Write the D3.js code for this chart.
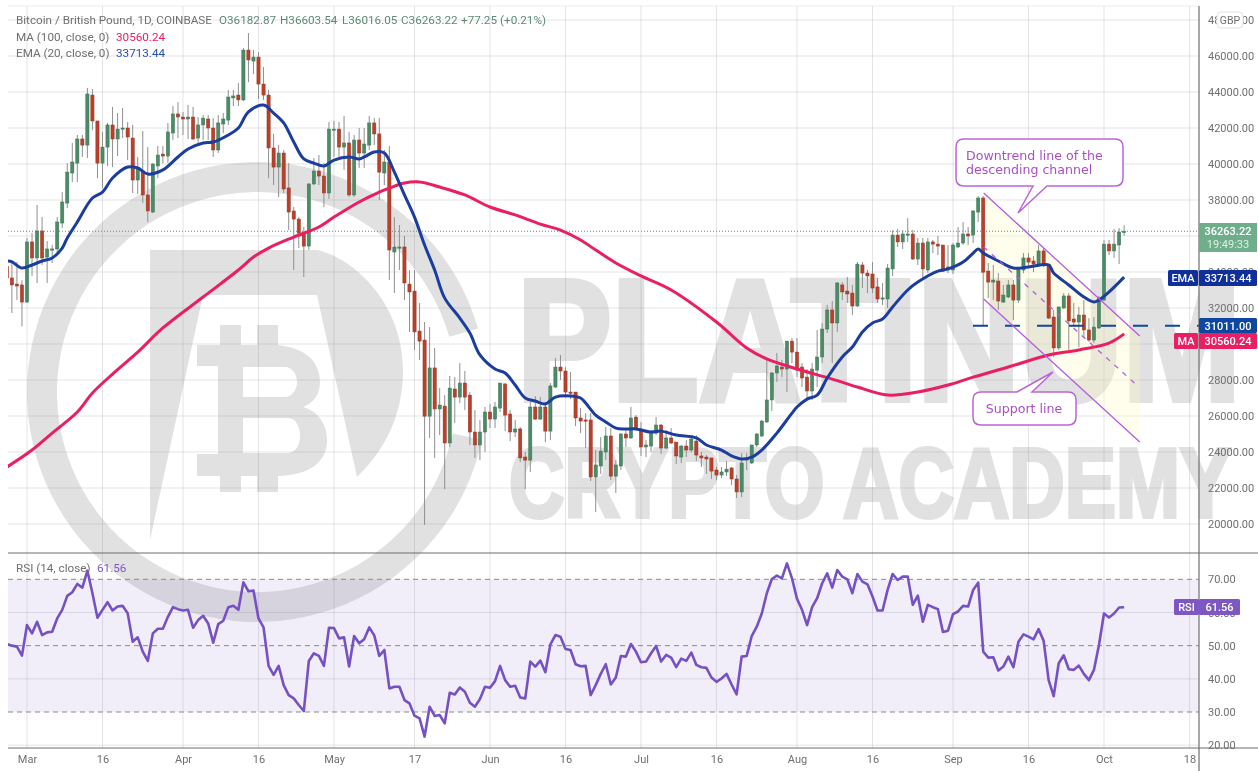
<!DOCTYPE html>
<html><head><meta charset="utf-8">
<style>html,body{margin:0;padding:0;background:#fff}svg{display:block;filter:blur(0.35px)}text{font-family:Roboto,sans-serif}</style>
<script src="https://cdnjs.cloudflare.com/ajax/libs/d3/7.8.5/d3.min.js"></script>
</head><body><svg id="c" width="1258" height="771"></svg>
<script>
// Candles: first value is day -4 (25 Feb), day 0 = 1 Mar, last value is day 218 (5 Oct)
const firstDay = -4;
const opens = [34300,
33670,33330,33280,32330,35670,34780,36280,34830,35220,35280,
36720,37830,39500,40050,41390,41050,43830,42390,40050,40940,
42170,41390,41940,42000,41440,39110,39610,38280,37330,39890,
40550,40440,41720,42780,42610,42500,42610,41440,42170,42500,
42000,40780,42220,42440,43670,43830,43560,46330,45720,45940,
44440,43830,40890,39830,40610,38670,37390,36940,36160,35440,
38890,39610,39330,38390,41890,41940,40940,41170,38280,41330,
40610,41050,42280,41670,39500,40110,35110,35330,35390,33330,
32940,30720,30220,25990,28670,26390,26550,24500,27500,27050,
27830,27160,25110,24390,25110,26220,25830,26440,27780,26110,
25110,25280,23720,23550,26500,25830,26500,25160,27610,28720,
28500,27330,27330,25890,25780,25780,22610,23220,24000,24890,
22660,23220,25000,24780,25940,25280,24280,24330,25050,25500,
24220,24780,24550,23720,24330,24110,24610,23780,23720,23670,
23000,22720,22890,23110,22500,21780,23550,23390,24390,24890,
25670,26890,28390,28720,28610,30160,29550,28720,28160,27390,
28550,29280,30830,31890,31170,33280,32940,32830,32110,34390,
33940,33890,33170,32500,32500,34170,36050,35670,36050,36110,
34720,35610,34110,35670,35550,35500,34110,34110,35390,35610,
36110,36050,37330,38110,34050,33440,33500,32330,32610,33280,
32440,34110,34780,34610,34390,35170,34440,31500,29780,32000,
32670,31390,31220,31610,30780,30220,30890,32440,35550,35170,
35500,36182.87];
const highs = [34900,
34670,34560,33550,35890,36160,37720,37050,35720,35500,37050,
38440,40050,41170,41610,41610,44220,44170,42390,41780,42280,
43170,42830,43110,42330,42170,40390,41830,40940,40050,41000,
41000,42280,43220,43440,42890,43280,43170,42610,42720,42720,
42550,42720,42830,44110,44110,44500,46440,47280,46330,46220,
45390,44110,41670,41050,40780,40050,37610,37050,36500,38940,
40330,40500,40050,42330,42390,42330,42670,41780,41610,42000,
42000,42670,42550,42550,40780,41000,37050,36610,36000,34110,
34110,32280,31220,30940,29780,27550,27160,28220,28160,28940,
28500,27330,26330,25780,26500,26670,26780,27830,27830,26330,
25780,25390,24000,26780,27110,27050,26780,27830,29220,29390,
28720,28440,27330,26440,26160,26160,24110,24830,25390,25330,
23550,25050,25330,26500,26050,25660,24660,25220,25940,25550,
25220,25330,24550,24390,24660,24890,24940,24000,23830,23670,
23170,23170,23500,23170,22720,23940,23940,24390,25050,25780,
29220,28440,29500,29110,30160,30330,30330,28940,28610,28940,
30780,31170,32170,32390,33440,33440,33720,33280,34550,34550,
34110,34550,33670,33390,34440,36330,36390,36330,36990,36330,
35890,35890,35890,35780,36000,35500,35500,35610,36500,36780,
36500,37440,38220,38220,34500,34390,33940,33280,33550,33550,
34280,35050,35050,34890,35500,35330,34440,31890,32060,32830,
32830,32280,32060,32440,31440,31500,32670,35780,35780,36390,
36440,36603.54];
const lows = [33000,
31720,32440,30980,32280,33780,33390,34390,33390,34500,35050,
36440,37550,38990,38990,40390,40330,41890,39220,38670,39890,
39830,40440,41440,40220,38390,38330,37830,36780,37280,39220,
40050,40050,41330,41440,41610,41390,41330,41170,41330,41330,
40390,40610,41720,42170,43220,43220,43500,44550,45000,43610,
43560,39220,38830,38160,38390,36330,34110,35330,33720,35220,
38830,38830,37610,38060,40390,40220,39670,38160,38160,39780,
39780,40780,41050,38000,38830,33550,32830,34110,32440,30670,
29670,29110,19950,24780,23670,24940,21940,24280,25610,26720,
26330,24390,23670,23550,24000,25330,25330,26220,25160,24610,
24830,23440,21940,22890,25780,25780,24550,24660,27550,28000,
27000,26940,25440,25050,24220,22390,20660,22780,23550,22440,
21720,23000,24280,24720,25220,23780,23720,24000,24940,23890,
24160,24440,23330,23390,23720,24000,23500,23170,22780,22500,
22440,22550,22660,22160,21440,21500,23000,23330,24280,24830,
25610,26280,27890,28160,27330,28940,28160,27610,27000,26890,
27610,28940,30610,28940,30670,32440,32280,31610,32060,33110,
32830,32830,32280,32170,32000,33780,35390,35280,35670,34670,
34390,33670,33940,35050,34940,34000,33940,33890,35330,35500,
35500,35610,36780,31050,32550,32440,31890,32280,32550,31330,
32280,33940,34280,33990,34280,34280,31390,29280,29670,31940,
29670,30940,29830,30330,30110,30050,30830,32390,34940,34780,
34440,36016.05];
const closes = [33670,
33280,33220,32330,35670,34780,36280,34780,35280,35280,36780,
37890,39550,40110,41390,41050,43890,42390,40050,40940,42170,
41390,41940,42000,41500,39110,39720,38280,37390,40000,40500,
40440,41780,42780,42610,42500,42610,41390,42170,42550,42000,
40780,42280,42500,43720,43780,43560,46330,45780,45940,44440,
43830,40890,39830,40610,38610,37330,36940,36160,35440,38890,
39610,39330,38390,41940,41940,40940,41170,38280,41330,40610,
41110,42280,41670,39550,40110,35220,35390,35390,33390,32890,
30670,30160,25990,28670,26390,26610,24500,27550,27050,27830,
27050,25110,24390,25110,26220,25830,26500,27830,26050,25110,
25280,23670,23550,26500,25830,26500,25160,27670,28720,28500,
27330,27280,25890,25720,25720,22610,23280,24050,24890,22660,
23280,25000,24780,25890,25280,24280,24390,25110,25500,24220,
24780,24500,23780,24330,24110,24720,23830,23670,23610,22940,
22720,22890,23050,22500,21780,23390,23670,24390,25000,25720,
26890,28390,28780,28610,30160,29550,28550,28110,27390,28610,
29280,30830,31890,31170,33390,32890,32780,32110,34440,33940,
33780,33110,32500,32560,34220,36050,35670,36110,36110,34720,
35610,34170,35670,35550,35440,34050,34280,35500,35610,36110,
36000,37390,38110,33990,33440,33550,32390,32720,33280,32440,
34170,34780,34550,34440,35170,34390,31440,29780,32060,32670,
31280,31220,31610,30780,30220,30940,32560,35550,35170,35550,
36220,36263.22];
// RSI for the same days
const rsiValues = [50.5,
50,49.7,47,56.2,53.7,57.2,53.2,54,54.2,58.2,
60.8,65,66.1,68.6,67.5,72.6,65.8,58.4,60.8,63.1,
60.6,61.8,62,59.8,51.2,52.5,48.2,45.4,53.7,55.1,
55.1,58.7,61.6,61,60.6,60.8,55.4,57.7,59,56.7,
50.9,56.5,57.5,61.6,62,60.8,69.1,66.4,66.6,58.2,
55.5,43.9,41.2,43.9,38.1,35.1,34.1,32.1,30.3,45.4,
47.7,46.9,43.9,55.4,55.3,52.2,52.5,43.7,52.9,50.7,
51.9,55.5,53.1,46.9,48.7,37.1,37.6,37.6,33.6,32.6,
28.9,28.1,22.6,31.6,28.8,29.1,26.6,35.8,35.3,37.4,
36.1,32.8,31.6,33.9,37.6,37.3,39.3,43.9,39.6,37.6,
37.9,34.4,34.1,45.2,43.7,45.5,42,50.4,53.2,52.7,
49,48.7,44.4,43.8,43.9,35.1,38.1,41.5,44.4,38.3,
40.4,46.9,46.7,50.5,48.2,45,45.2,47.7,49.9,45.2,
47.2,46.4,43.5,46.1,45.4,47.9,44.2,43.5,43.3,40.4,
39.1,40.1,41.5,38.3,35.3,46.7,46.9,52.9,55.7,59.7,
65.8,70.1,71.1,70.3,74.8,70.3,64.1,60.8,56.2,61.6,
64.3,68.8,71.8,67.5,72.8,70.8,70,65.8,71.6,69.3,
68.5,64.8,60.6,60.6,66.8,71.6,69.8,70.8,70.8,62.3,
65.1,57.2,62.3,61.6,61,54.1,54.5,59.5,60.3,62,
61.8,66.8,69,48.2,46.4,46.5,42.5,43.7,46.7,43.5,
51.2,53.4,52.7,51.9,55,51.5,39.6,34.8,44.7,47.1,
42.9,42.7,44,41.5,39.6,42.7,50.2,59.7,58.5,59.7,
61.5,61.56];
// EMA(20) and MA(100), read at the turning points
const emaDays = [-4,-3,-1,1,3,5,7,8,10,13,15,17,20,22,24,27,30,32,35,37,40,42,44,47,49,51,53,55,57,59,61,64,66,67,69,71,73,75,77,79,81,83,86,88,90,93,95,97,99,101,103,105,108,110,111,113,115,117,119,121,124,126,129,133,135,138,140,142,144,146,149,152,153,155,157,159,162,164,166,168,170,172,175,177,181,183,186,188,189,190,193,196,199,203,204,207,210,212,213,215,218];
const emaValues = [34610,34560,34220,34390,34610,34780,35330,35890,36780,38110,38440,39220,39830,39780,39440,39670,40390,40830,41170,41220,41610,42000,42890,43280,42830,42280,41220,40280,40050,39890,40220,40390,40280,40390,40670,40610,39550,38280,37050,35500,34110,32550,31440,30610,29390,28610,28390,27720,27000,26830,26670,27050,27110,27000,26720,26050,25670,25330,25280,25280,25110,25160,24940,24780,24390,24110,23780,23610,23720,24110,25050,26160,26500,26940,27160,28110,29280,29830,30670,31170,31390,32060,33000,33440,34050,34170,34550,35050,35280,35050,34610,34220,34280,34390,33940,33280,32610,32330,32440,32890,33713.44];
const maDays = [-4,1,5,10,13,17,22,27,35,42,45,48,53,58,61,66,70,72,75,78,82,87,92,97,102,106,110,113,117,122,128,137,143,147,153,160,165,171,177,183,188,195,203,209,215,218];
const maValues = [23160,24110,25050,26220,27280,28330,29550,30890,32610,34110,34830,35330,35940,36500,37050,37890,38440,38660,38940,39000,38720,38280,37610,37170,36660,36330,35780,35220,34500,33780,33000,31220,29780,29170,28610,28050,27610,27160,27330,27720,28160,28720,29390,29670,30050,30560.24];
// Axes
const priceTicks = [20000,22000,24000,26000,28000,30000,32000,34000,36000,38000,40000,42000,44000,46000,48000];
const rsiTicks = [20,30,40,50,60,70];
const timeTickDays = [0,15,31,46,61,77,92,107,122,137,153,168,184,199,214,231];
const timeTickLabels = ["Mar","16","Apr","16","May","17","Jun","16","Jul","16","Aug","16","Sep","16","Oct","18"];
// Drawn levels and channel, as [day, price]
const supportLevel = 31011;
const channelUpper = [[190.1,38390],[221.1,30440]];
const channelLower = [[190.1,32500],[221.1,24550]];
const channelMid = [[190.1,35390],[220.5,27720]];

const svg = d3.select("#c");
const L=8,R=1199,T=6,PB=553,RB=748;
const x = d3.scaleLinear().domain([0,214]).range([27,1104]);
const y = d3.scaleLinear().domain([46000,20000]).range([56,524]);
const ry = d3.scaleLinear().domain([70,30]).range([579.3,712]);
const days = opens.map((_,i)=>i+firstDay);
const defs = svg.append("defs");
defs.append("clipPath").attr("id","pc").append("rect").attr("x",L).attr("y",T).attr("width",R-L).attr("height",PB-T);
defs.append("clipPath").attr("id","rc").append("rect").attr("x",L).attr("y",PB).attr("width",R-L).attr("height",RB-PB);

const WM="#e1e1e1";
// Watermark
const wm = svg.append("g").attr("fill",WM);
wm.append("path").attr("transform","translate(257,392)")
  .attr("d",d3.arc().innerRadius(200).outerRadius(230).startAngle(102*Math.PI/180).endAngle(434*Math.PI/180)());
wm.append("path").attr("d","M150,250H318C362,262 403,310 403,370C403,415 385,450 357,477L317,295H203L150,540Z");
wm.append("path").attr("fill-rule","evenodd").attr("d","M197,345H220V325H241V345H257V325H278V345C306,348 320,362 320,382C320,394 314,403 303,407C318,411 327,424 327,440C327,462 310,475 278,476V492H257V476H241V492H220V476H197V454H218V366H197ZM243,367V397H285C292,397 297,390 297,382C297,374 292,367 285,367ZM243,418V453H288C296,453 300,444 300,436C300,427 296,418 288,418Z");
wm.append("text").attr("x",517).attr("y",400).attr("textLength",724).attr("lengthAdjust","spacingAndGlyphs")
  .attr("stroke",WM).attr("stroke-width",6).attr("stroke-linejoin","miter")
  .style("font-family","'Liberation Sans',sans-serif").style("font-weight",700).style("font-size","172px").text("PLATINUM");
wm.append("text").attr("x",509).attr("y",517).attr("textLength",722).attr("lengthAdjust","spacingAndGlyphs")
  .attr("stroke",WM).attr("stroke-width",4).attr("stroke-linejoin","miter")
  .style("font-family","'Liberation Sans',sans-serif").style("font-weight",700).style("font-size","98px").text("CRYPTO ACADEMY");

// RSI band
svg.append("rect").attr("x",L).attr("y",ry(70)).attr("width",R-L).attr("height",ry(30)-ry(70)).attr("fill","#7e57c2").attr("fill-opacity",0.1);

// Grid
const gridC="rgba(120,120,140,0.2)";
const grid = svg.append("g").attr("fill","none");
grid.append("line").attr("x1",L).attr("x2",R).attr("y1",T).attr("y2",T).attr("stroke","#ececf0");
grid.selectAll(".h").data(priceTicks).join("line")
  .attr("x1",L).attr("x2",R).attr("y1",d=>y(d)).attr("y2",d=>y(d)).attr("stroke",gridC);
grid.selectAll(".v").data(timeTickDays).join("line")
  .attr("x1",d=>x(d)).attr("x2",d=>x(d)).attr("y1",T).attr("y2",RB).attr("stroke",gridC);
grid.selectAll(".r").data(rsiTicks).join("line")
  .attr("x1",L).attr("x2",R).attr("y1",d=>ry(d)).attr("y2",d=>ry(d))
  .attr("stroke",d=>(d===70||d===50||d===30)?"#8a8a8a":gridC)
  .attr("stroke-dasharray",d=>(d===70||d===50||d===30)?"5 4":null);

// Channel fill
const chPts=[...channelUpper,...channelLower.slice().reverse()].map(p=>[x(p[0]),y(p[1])]);
svg.append("path").attr("d",d3.line()(chPts)+"Z").attr("fill","#fff9c4").attr("fill-opacity",0.32);

// Last price line
svg.append("line").attr("x1",L).attr("x2",R).attr("y1",y(36263.22)).attr("y2",y(36263.22))
  .attr("stroke","#4f9a72").attr("stroke-dasharray","1 2");

// Candles
const cg = svg.append("g").attr("clip-path","url(#pc)");
const green="#4b8b67",red="#b8412c";
const idx = d3.range(opens.length);
cg.selectAll(".w").data(idx).join("line")
  .attr("x1",i=>x(days[i])).attr("x2",i=>x(days[i])).attr("y1",i=>y(highs[i])).attr("y2",i=>y(lows[i]))
  .attr("stroke","#8f8f8f").attr("stroke-width",1);
cg.selectAll(".b").data(idx).join("rect")
  .attr("x",i=>x(days[i])-1.6).attr("width",3.2)
  .attr("y",i=>y(Math.max(opens[i],closes[i])))
  .attr("height",i=>Math.max(1.2,Math.abs(y(opens[i])-y(closes[i]))))
  .attr("fill",i=>closes[i]>=opens[i]?green:red)
  .attr("stroke",i=>closes[i]>=opens[i]?"#3a7554":"#9c3020").attr("stroke-width",0.5);

// MA / EMA
const smooth = d3.line().curve(d3.curveCatmullRom.alpha(0.5));
cg.append("path").attr("d",smooth(maDays.map((d,i)=>[x(d),y(maValues[i])])))
  .attr("fill","none").attr("stroke","#e91e63").attr("stroke-width",3);
cg.append("path").attr("d",smooth(emaDays.map((d,i)=>[x(d),y(emaValues[i])])))
  .attr("fill","none").attr("stroke","#1a3d9e").attr("stroke-width",3);

// Level
svg.append("line").attr("x1",973).attr("x2",R).attr("y1",y(supportLevel)).attr("y2",y(supportLevel))
  .attr("stroke","#0d47a1").attr("stroke-width",2).attr("stroke-dasharray","15 17");

// Channel lines
const PUR="#b45be0";
const ln=d3.line().x(p=>x(p[0])).y(p=>y(p[1]));
svg.append("path").attr("d",ln(channelUpper)).attr("stroke",PUR).attr("stroke-width",1.3).attr("fill","none");
svg.append("path").attr("d",ln(channelLower)).attr("stroke",PUR).attr("stroke-width",1.3).attr("fill","none");
svg.append("path").attr("d",ln(channelMid)).attr("stroke",PUR).attr("stroke-width",1.3).attr("fill","none").attr("stroke-dasharray","5 6");

// Callouts
const CT="#a94fc8",CB="#b965d6";
function callout(x0,y0,w,h,ptr,lines,tx,anchor){
  const r=8;
  const top = ptr.side==="top", [a,tipx,tipy,b]=[ptr.a,ptr.x,ptr.y,ptr.b];
  let d=`M${x0+r},${y0}`;
  if(top) d+=`H${a}L${tipx},${tipy}L${b},${y0}`;
  d+=`H${x0+w-r}Q${x0+w},${y0} ${x0+w},${y0+r}V${y0+h-r}Q${x0+w},${y0+h} ${x0+w-r},${y0+h}`;
  if(!top) d+=`H${b}L${tipx},${tipy}L${a},${y0+h}`;
  d+=`H${x0+r}Q${x0},${y0+h} ${x0},${y0+h-r}V${y0+r}Q${x0},${y0} ${x0+r},${y0}Z`;
  svg.append("path").attr("d",d).attr("fill","#fff").attr("stroke",CB).attr("stroke-width",1.5);
  lines.forEach((t,i)=>svg.append("text").attr("x",tx).attr("y",y0+(lines.length==1?21:21)+i*14).attr("text-anchor",anchor)
    .attr("fill",CT).style("font-family","'DejaVu Sans',sans-serif").style("font-size","12.6px").text(t));
}
callout(956,139,167,47,{side:"bottom",a:1033,b:1047,x:1018,y:213},["Downtrend line of the","descending channel"],966,"start");
callout(973,392,103,33,{side:"top",a:1017,b:1032,x:1053,y:372},["Support line"],1024,"middle");

// RSI line
svg.append("g").attr("clip-path","url(#rc)").append("path")
  .attr("d",d3.line()(days.map((d,i)=>[x(d),ry(rsiValues[i])]))).attr("fill","none")
  .attr("stroke","#7651c4").attr("stroke-width",2.6).attr("stroke-linejoin","round");

// Frame
svg.append("line").attr("x1",L).attr("x2",1258).attr("y1",PB).attr("y2",PB).attr("stroke","#6e6e6e").attr("stroke-width",1.2);
svg.append("line").attr("x1",L).attr("x2",1258).attr("y1",RB).attr("y2",RB).attr("stroke","#6e6e6e").attr("stroke-width",1.2);
svg.append("line").attr("x1",R).attr("x2",R).attr("y1",T).attr("y2",771).attr("stroke","#6e6e6e").attr("stroke-width",1.2);

// Axes
const AX="#6f6f6f", AF="11px";
const px = d3.axisRight(y).tickValues(priceTicks).tickFormat(d3.format(".2f")).tickSize(0).tickPadding(9);
const gp = svg.append("g").attr("transform",`translate(${R},0)`).call(px);
gp.select(".domain").remove(); gp.selectAll("text").attr("fill",AX).style("font-size",AF);
const prx = d3.axisRight(ry).tickValues(rsiTicks).tickFormat(d3.format(".2f")).tickSize(0).tickPadding(9);
const gr = svg.append("g").attr("transform",`translate(${R},0)`).call(prx);
gr.select(".domain").remove(); gr.selectAll("text").attr("fill",AX).style("font-size",AF);
const ax = d3.axisBottom(x).tickValues(timeTickDays).tickFormat((d,i)=>timeTickLabels[i]).tickSize(0).tickPadding(7);
const gx = svg.append("g").attr("transform",`translate(0,${RB})`).call(ax);
gx.select(".domain").remove(); gx.selectAll("text").attr("fill",AX).style("font-size",AF);

// Currency button
svg.append("rect").attr("x",1217).attr("y",12).attr("width",26).attr("height",16).attr("rx",4).attr("fill","#fff").attr("stroke","#dfe1ea");
svg.append("text").attr("x",1230).attr("y",24).attr("text-anchor","middle").attr("fill",AX).style("font-size","10.5px").text("GBP");

// Price tags
function tag(x0,y0,w,h,fill,txt,col,fs,bold){
  svg.append("rect").attr("x",x0).attr("y",y0).attr("width",w).attr("height",h).attr("rx",1.5).attr("fill",fill);
  svg.append("text").attr("x",x0+w/2).attr("y",y0+h/2+4).attr("text-anchor","middle").attr("fill",col||"#fff")
    .style("font-size",fs||"11px").style("font-weight",bold?500:400).text(txt);
}
svg.append("rect").attr("x",R).attr("y",223).attr("width",58).attr("height",29).attr("fill","#6fae8b");
svg.append("text").attr("x",R+29).attr("y",235).attr("text-anchor","middle").attr("fill","#fff").style("font-size","11px").style("font-weight",500).text("36263.22");
svg.append("text").attr("x",R+29).attr("y",248).attr("text-anchor","middle").attr("fill","#dff0e6").style("font-size","11px").text("19:49:33");
tag(R,270,58,16,"#0f2f9a","33713.44",null,null,true);
tag(1168,270,30,16,"#0f2f9a","EMA",null,null,true);
tag(R,318,58,15,"#0d47a1","31011.00",null,null,true);
tag(R,333,58,16,"#e91e63","30560.24",null,null,true);
tag(1174,333,24,16,"#e91e63","MA",null,null,true);
tag(R,599,41,16,"#7e57c2","61.56",null,null,true);
tag(1174,599,25,16,"#7e57c2","RSI",null,null,true);

// Legends
const G="#6f6f6f",HG="#5c8a74";
function lbl(xp,yp,t,c){svg.append("text").attr("x",xp).attr("y",yp).attr("fill",c).style("font-size","11.7px").text(t);}
lbl(16,24,"Bitcoin / British Pound, 1D, COINBASE",G);
lbl(219,24,"O36182.87",HG);lbl(280,24,"H36603.54",HG);lbl(342,24,"L36016.05",HG);lbl(401,24,"C36263.22",HG);lbl(461,24,"+77.25",HG);lbl(500,24,"(+0.21%)",HG);
lbl(16,41,"MA (100, close, 0)",G);lbl(116,41,"30560.24","#e91e63");
lbl(16,57,"EMA (20, close, 0)",G);lbl(116,57,"33713.44","#2a4db0");
lbl(16,572,"RSI (14, close)",G);lbl(97,572,"61.56","#7e57c2");
</script></body></html>
